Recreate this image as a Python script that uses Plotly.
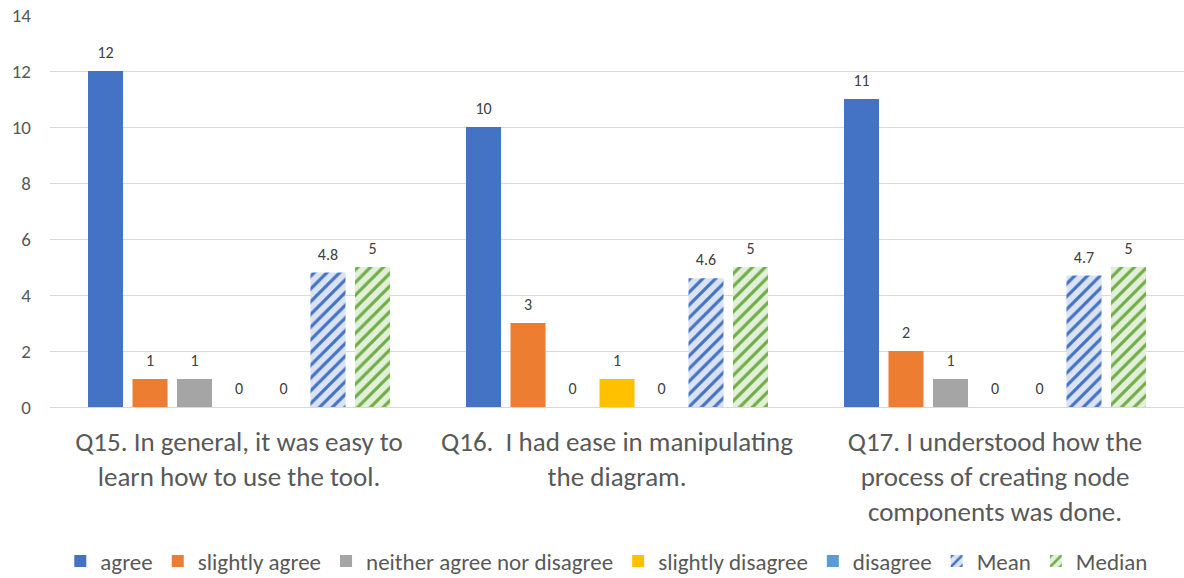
import plotly.graph_objects as go

categories = [
    "Q15. In general, it was easy to<br>learn how to use the tool.",
    "Q16.  I had ease in manipulating<br>the diagram.",
    "Q17. I understood how the<br>process of creating node<br>components was done.",
]
series_names = ["agree", "slightly agree", "neither agree nor disagree",
                "slightly disagree", "disagree", "Mean", "Median"]
agree = [12, 10, 11]
slightly_agree = [1, 3, 2]
neither = [1, 0, 1]
slightly_disagree = [0, 1, 0]
disagree = [0, 0, 0]
mean = [4.8, 4.6, 4.7]
median = [5, 5, 5]
values = [agree, slightly_agree, neither, slightly_disagree, disagree, mean, median]

colors = ["#4472C4", "#ED7D31", "#A5A5A5", "#FFC000", "#5B9BD5", "#4472C4", "#70AD47"]
pattern_bg = {5: "#DAE3F3", 6: "#E2F0D9"}

FONT = "Carlito, Calibri, Lato, sans-serif"
TXT = "#595959"

fig = go.Figure()
for i, (name, vals) in enumerate(zip(series_names, values)):
    marker = dict(color=colors[i], line=dict(width=0))
    if i in pattern_bg:
        marker = dict(color=pattern_bg[i], line=dict(width=0),
                      pattern=dict(shape="/", fgcolor=colors[i], bgcolor=pattern_bg[i],
                                   size=9, solidity=0.35, fillmode="replace"))
    fig.add_trace(go.Bar(
        name=name, x=categories, y=vals, marker=marker,
        text=[f"<span style='font-size:16px'>{v:g}</span><br> " for v in vals],
        textposition="outside", cliponaxis=False, constraintext="none",
        textfont=dict(family=FONT, size=6, color="#404040"),
        hoverinfo="skip",
    ))

fig.update_layout(
    width=1184, height=578,
    margin=dict(l=50, r=0, t=15, b=171, autoexpand=False),
    paper_bgcolor="white", plot_bgcolor="white",
    barmode="group", bargap=0.176, bargroupgap=0.213,
    font=dict(family=FONT, color=TXT),
    showlegend=True,
    legend=dict(orientation="h", x=0.491, xanchor="center", y=-0.393, yanchor="middle",
                font=dict(size=23, color=TXT), itemwidth=30, tracegroupgap=0,
                traceorder="normal"),
)
fig.update_xaxes(tickfont=dict(size=27, color=TXT), showgrid=False, showline=False,
                 ticks="", ticklabelstandoff=16, automargin=False)
fig.update_yaxes(range=[0, 14], dtick=2, showgrid=True, gridcolor="#D9D9D9", gridwidth=1,
                 zeroline=True, zerolinecolor="#D9D9D9", zerolinewidth=1,
                 tickfont=dict(size=19, color=TXT), ticklabelstandoff=18, automargin=False)

fig.write_html("out.html", config={"displayModeBar": False},
               post_script="document.body.style.margin='0';")
